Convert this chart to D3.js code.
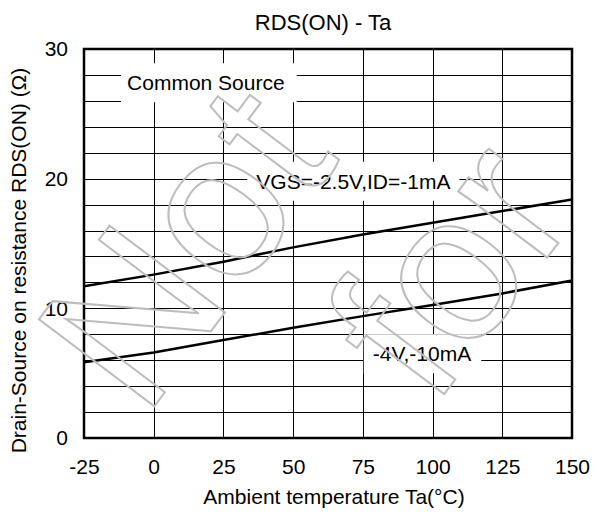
<!DOCTYPE html>
<html>
<head>
<meta charset="utf-8">
<script src="https://cdn.jsdelivr.net/npm/d3@7"></script>
<style>
  html, body { margin: 0; padding: 0; background: #fff; }
  svg { display: block; }
  text { font-family: "Liberation Sans", Arial, sans-serif; fill: #000; }
</style>
</head>
<body>
<div id="chart"></div>
<script>
// ---- data ----
const temps = [-25, 0, 25, 50, 75, 100, 125, 150];
const rds_2p5V = [11.7, 12.6, 13.6, 14.7, 15.7, 16.6, 17.5, 18.4];
const rds_4V = [5.85, 6.6, 7.55, 8.5, 9.4, 10.25, 11.15, 12.15];
const xTicks = [-25, 0, 25, 50, 75, 100, 125, 150];
const yTicks = [0, 10, 20, 30];
const yGrid = [2, 4, 6, 8, 10, 12, 14, 16, 18, 20, 22, 24, 26, 28];
const labelTexts = ["Common Source", "VGS=-2.5V,ID=-1mA", "-4V,-10mA"];
const labelX = [18.7, 71.6, 96.2];
const labelY = [27.4, 19.8, 6.5];
const titleText = "RDS(ON) - Ta";
const xTitle = "Ambient temperature Ta(°C)";
const yTitle = "Drain-Source on resistance RDS(ON) (Ω)";
const watermarkWords = ["Not", "for"];

// ---- layout ----
const W = 593, H = 517;
const m = { left: 84, right: 21, top: 49, bottom: 79 };
const FS = 21;

const svg = d3.select("#chart").append("svg").attr("width", W).attr("height", H);

const x = d3.scaleLinear().domain([-25, 150]).range([m.left, W - m.right]);
const y = d3.scaleLinear().domain([0, 30]).range([H - m.bottom, m.top]);

const g = svg.append("g");

// grid
g.selectAll("line.hg").data(yGrid).enter().append("line")
  .attr("x1", x(-25)).attr("x2", x(150))
  .attr("y1", d => Math.round(y(d)) + 0.5).attr("y2", d => Math.round(y(d)) + 0.5)
  .attr("stroke", "#000").attr("stroke-width", 1);
g.selectAll("line.vg").data(xTicks.slice(1, -1)).enter().append("line")
  .attr("y1", y(0)).attr("y2", y(30))
  .attr("x1", d => Math.round(x(d)) + 0.5).attr("x2", d => Math.round(x(d)) + 0.5)
  .attr("stroke", "#000").attr("stroke-width", 1);

// label boxes (mask grid)
const labels = labelTexts.map((t, i) => ({ t, x: labelX[i], y: labelY[i] }));
const padR = [12, 9, 10], padL = [6, 9, 9];
const lg = g.selectAll("g.lab").data(labels).enter().append("g");
const lt = lg.append("text")
  .attr("x", d => x(d.x)).attr("y", d => y(d.y))
  .attr("text-anchor", "middle").attr("dominant-baseline", "central")
  .attr("font-size", FS).text(d => d.t);
lt.each(function (d, i) {
  const bb = this.getBBox();
  d3.select(this.parentNode).insert("rect", "text")
    .attr("x", bb.x - padL[i]).attr("y", bb.y - 8)
    .attr("width", bb.width + padL[i] + padR[i]).attr("height", bb.height + 16)
    .attr("fill", "#fff");
});

// curves
const line = d3.line().x((d, i) => x(temps[i])).y(d => y(d));
[rds_2p5V, rds_4V].forEach(s => {
  g.append("path").datum(s).attr("d", line)
    .attr("fill", "none").attr("stroke", "#000").attr("stroke-width", 2.5);
});

// frame
g.append("rect").attr("x", x(-25)).attr("y", y(30))
  .attr("width", x(150) - x(-25)).attr("height", y(0) - y(30))
  .attr("fill", "none").attr("stroke", "#000").attr("stroke-width", 2.5);

// axes tick labels
const xAxis = d3.axisBottom(x).tickValues(xTicks).tickSize(0).tickPadding(0).tickFormat(d => String(d));
const xa = svg.append("g").attr("transform", `translate(0,${y(0) + 21})`).call(xAxis);
xa.select(".domain").remove();
xa.selectAll("text").attr("font-size", FS).attr("font-family", "Liberation Sans, Arial, sans-serif").attr("fill", "#000");

const yAxis = d3.axisLeft(y).tickValues(yTicks).tickSize(0).tickPadding(16).tickFormat(d => String(d));
const ya = svg.append("g").attr("transform", `translate(${x(-25)},0)`).call(yAxis);
ya.select(".domain").remove();
ya.selectAll("text").attr("font-size", FS).attr("font-family", "Liberation Sans, Arial, sans-serif").attr("fill", "#000");

// titles
svg.append("text").attr("x", 323).attr("y", 30).attr("text-anchor", "middle")
  .attr("font-size", FS + 1).text(titleText);
svg.append("text").attr("x", (x(-25) + x(150)) / 2 + 6).attr("y", 504).attr("text-anchor", "middle")
  .attr("font-size", FS).text(xTitle);
svg.append("text").attr("transform", `translate(26,${(y(0) + y(30)) / 2 + 17}) rotate(-90)`)
  .attr("text-anchor", "middle").attr("font-size", FS).text(yTitle);

// watermark (outlined, rotated)
const wmOrigins = [[144, 420], [433, 409]];
watermarkWords.forEach((w, i) => {
  svg.append("text")
    .attr("transform", `translate(${wmOrigins[i][0]},${wmOrigins[i][1]}) rotate(-53)`)
    .attr("font-size", 210)
    .style("fill", "none").attr("stroke", "#bdbdbd").attr("stroke-width", 2)
    .text(w);
});
</script>
</body>
</html>
